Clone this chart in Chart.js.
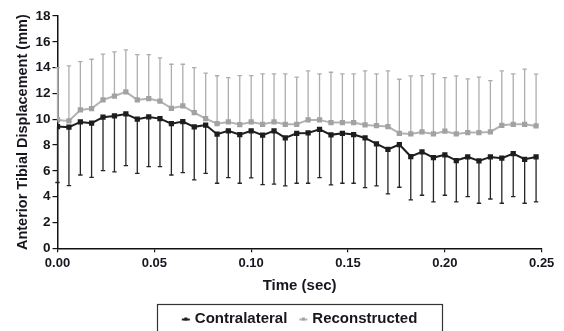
<!DOCTYPE html>
<html>
<head>
<meta charset="utf-8">
<script src="https://cdn.jsdelivr.net/npm/chart.js@4/dist/chart.umd.min.js"></script>
<style>
  html, body { margin: 0; padding: 0; background: #fff; }
  #wrap { width: 564px; height: 331px; position: relative; }
</style>
</head>
<body>
<div id="wrap"><canvas id="c" width="564" height="331"></canvas></div>
<script>
// Sample times (sec)
const timeSec = [0, 0.0059, 0.0118, 0.0176, 0.0235, 0.0294, 0.0353, 0.0412, 0.0471, 0.0529,
  0.0588, 0.0647, 0.0706, 0.0765, 0.0824, 0.0882, 0.0941, 0.1, 0.1059, 0.1118,
  0.1176, 0.1235, 0.1294, 0.1353, 0.1412, 0.1471, 0.1529, 0.1588, 0.1647, 0.1706,
  0.1765, 0.1824, 0.1882, 0.1941, 0.2, 0.2059, 0.2118, 0.2176, 0.2235, 0.2294,
  0.2353, 0.2412, 0.2471];

// Contralateral knee: mean displacement (mm) and SD (drawn downward)
const contralateralMean = [9.43, 9.38, 9.79, 9.69, 10.16, 10.26, 10.41, 10.0, 10.18, 10.05,
  9.66, 9.82, 9.41, 9.55, 8.84, 9.10, 8.81, 9.10, 8.76, 9.10,
  8.55, 8.91, 8.94, 9.22, 8.79, 8.91, 8.81, 8.55, 8.09, 7.67,
  8.04, 7.11, 7.47, 7.03, 7.24, 6.80, 7.08, 6.77, 7.08, 6.98,
  7.34, 6.90, 7.08];
const contralateralSD = [4.33, 4.52, 4.11, 4.19, 4.14, 4.34, 4.00, 4.19, 3.85, 3.72,
  3.98, 3.95, 4.11, 3.74, 3.80, 3.62, 3.77, 3.65, 3.82, 4.13,
  3.72, 3.87, 3.90, 3.74, 3.88, 3.87, 3.77, 3.85, 3.26, 3.46,
  3.31, 3.36, 3.36, 3.44, 3.13, 3.21, 3.07, 3.28, 3.26, 3.49,
  3.33, 3.41, 3.49];

// Reconstructed knee: mean displacement (mm) and SD (drawn upward)
const reconstructedMean = [9.95, 9.87, 10.72, 10.83, 11.5, 11.8, 12.12, 11.5, 11.6, 11.4,
  10.85, 11.03, 10.52, 10.05, 9.66, 9.79, 9.59, 9.79, 9.61, 9.79,
  9.61, 9.61, 9.95, 9.95, 9.74, 9.74, 9.74, 9.56, 9.5, 9.43,
  8.91, 8.86, 9.02, 8.86, 9.07, 8.86, 8.97, 8.97, 9.02, 9.53,
  9.61, 9.61, 9.48];
const reconstructedSD = [4.05, 4.26, 3.75, 3.82, 3.54, 3.42, 3.25, 3.51, 3.41, 3.35,
  3.41, 3.23, 3.48, 3.52, 3.71, 3.44, 3.79, 3.59, 3.90, 3.72,
  3.90, 3.65, 3.80, 3.56, 3.90, 3.77, 3.77, 4.19, 4.01, 4.32,
  4.19, 4.50, 4.36, 4.65, 4.16, 4.50, 4.16, 4.29, 3.98, 4.22,
  3.90, 4.27, 4.01];

const seriesNames = ['Contralateral', 'Reconstructed'];
const yTicks = [0, 2, 4, 6, 8, 10, 12, 14, 16, 18];
const xTicks = [0, 0.05, 0.10, 0.15, 0.20, 0.25];

const BLACK = '#1e1e1e';
const GREY = '#b3b3b3';
const GREY_PT = '#a2a2a2';
const FONT = "'Liberation Sans', Arial, Helvetica, sans-serif";
const TEXT = '#16161f';

const toPts = (ys) => ys.map((y, i) => ({ x: timeSec[i], y }));

// One-sided SD whiskers with small caps
const errorBars = {
  id: 'errorBars',
  beforeDatasetsDraw(chart) {
    const { ctx, scales: { x, y } } = chart;
    chart.data.datasets.forEach((ds, di) => {
      if (!chart.isDatasetVisible(di)) return;
      const dir = ds.errDir;
      ctx.save();
      ctx.strokeStyle = ds.errColor;
      ctx.lineWidth = 1.3;
      ds.data.forEach((p, i) => {
        const px = x.getPixelForValue(p.x);
        const y0 = y.getPixelForValue(p.y);
        const y1 = y.getPixelForValue(p.y + dir * ds.sd[i]);
        ctx.beginPath();
        ctx.moveTo(px, y0);
        ctx.lineTo(px, y1);
        ctx.moveTo(px - 2.2, y1);
        ctx.lineTo(px + 2.2, y1);
        ctx.stroke();
      });
      ctx.restore();
    });
  }
};

// Boxed legend below the axis title
const boxedLegend = {
  id: 'boxedLegend',
  afterDraw(chart) {
    const { ctx, chartArea } = chart;
    const cx = (chartArea.left + chartArea.right) / 2;
    const boxW = 285;
    const top = 304;
    ctx.save();
    ctx.strokeStyle = '#333';
    ctx.lineWidth = 1.2;
    ctx.strokeRect(Math.round(cx - boxW / 2) + 0.5, top + 0.5, boxW, 40);

    ctx.font = 'bold 15px ' + FONT;
    ctx.textBaseline = 'middle';
    ctx.fillStyle = TEXT;
    const items = chart.data.datasets.map(ds => ({
      text: ds.label, color: ds.borderColor, pt: ds.pointBackgroundColor
    }));
    const markW = 8, gap = 5, between = 12;
    const widths = items.map(it => markW + gap + ctx.measureText(it.text).width);
    const total = widths.reduce((a, b) => a + b, 0) + between * (items.length - 1);
    let xCur = cx - total / 2;
    const yMid = 318.5;
    items.forEach((it, i) => {
      ctx.strokeStyle = it.color;
      ctx.lineWidth = 2;
      ctx.beginPath();
      ctx.moveTo(xCur, yMid + 1);
      ctx.lineTo(xCur + markW, yMid + 1);
      ctx.stroke();
      ctx.fillStyle = it.pt;
      ctx.fillRect(xCur + markW / 2 - 1.5, yMid - 1, 3, 3);
      ctx.fillStyle = TEXT;
      ctx.fillText(it.text, xCur + markW + gap, yMid);
      xCur += widths[i] + between;
    });
    ctx.restore();
  }
};

new Chart(document.getElementById('c'), {
  type: 'line',
  data: {
    datasets: [
      {
        label: seriesNames[0],
        data: toPts(contralateralMean),
        sd: contralateralSD,
        errDir: -1,
        errColor: '#262626',
        borderColor: BLACK,
        backgroundColor: BLACK,
        pointBackgroundColor: BLACK,
        pointBorderColor: BLACK,
        borderWidth: 2,
        pointStyle: 'rect',
        pointRadius: 2.3,
        tension: 0,
        order: 1
      },
      {
        label: seriesNames[1],
        data: toPts(reconstructedMean),
        sd: reconstructedSD,
        errDir: 1,
        errColor: '#adadad',
        borderColor: GREY,
        backgroundColor: GREY_PT,
        pointBackgroundColor: GREY_PT,
        pointBorderColor: GREY_PT,
        borderWidth: 2,
        pointStyle: 'rect',
        pointRadius: 2.3,
        tension: 0,
        order: 2
      }
    ]
  },
  options: {
    responsive: false,
    animation: false,
    layout: { padding: { left: 0, right: 22.3, top: 16, bottom: 35.7 } },
    plugins: {
      legend: { display: false },
      tooltip: { enabled: false }
    },
    scales: {
      x: {
        type: 'linear',
        min: 0,
        max: 0.25,
        afterBuildTicks: (s) => { s.ticks = xTicks.map(v => ({ value: v })); },
        afterFit: (s) => { s.height = 47; },
        ticks: {
          padding: 3,
          color: TEXT,
          font: { family: FONT, size: 13, weight: 'bold' },
          callback: (v) => Number(v).toFixed(2),
          maxRotation: 0
        },
        grid: { display: true, drawOnChartArea: false, drawTicks: true, tickLength: 4, color: '#111', lineWidth: 1.2 },
        border: { display: true, color: '#111', width: 1.5 },
        title: {
          display: true,
          text: 'Time (sec)',
          color: TEXT,
          font: { family: FONT, size: 15, weight: 'bold' },
          padding: { top: 1, bottom: 0 }
        }
      },
      y: {
        min: 0,
        max: 18,
        afterBuildTicks: (s) => { s.ticks = yTicks.map(v => ({ value: v })); },
        afterFit: (s) => { s.width = 57.5; },
        ticks: {
          padding: 2,
          color: TEXT,
          font: { family: FONT, size: 13.5, weight: 'bold' }
        },
        grid: { display: true, drawOnChartArea: false, drawTicks: true, tickLength: 5, color: '#111', lineWidth: 1.2 },
        border: { display: true, color: '#111', width: 1.5 },
        title: {
          display: true,
          text: 'Anterior Tibial Displacement (mm)',
          color: TEXT,
          font: { family: FONT, size: 14.5, weight: 'bold' },
          padding: { top: 14.6, bottom: 0 }
        }
      }
    }
  },
  plugins: [errorBars, boxedLegend]
});
</script>
</body>
</html>
